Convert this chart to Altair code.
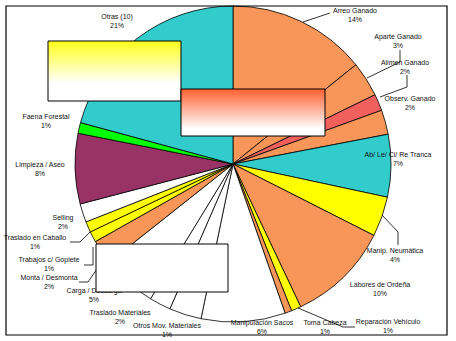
import altair as alt
import pandas as pd

# ---- data (clockwise from 12 o'clock) ----
categories = ["Arreo Ganado", "Aparte Ganado", "Alimen Ganado", "Observ. Ganado",
              "Ab/ Le/ Ci/ Re Tranca", "Manip. Neumática", "Labores de Ordeña",
              "Reparación Vehículo", "Toma Cabeza", "Manipulación Sacos",
              "Otros Mov. Materiales", "Traslado Materiales", "Carga / Descarga",
              "Monta / Desmonta", "Trabajos c/ Gopiete", "Traslado en Caballo",
              "Selling", "Limpieza / Aseo", "Faena Forestal", "Otras (10)"]
values = [14.2, 3.6, 1.7, 2.5, 6.4, 4.1, 10.5, 1.0, 0.7, 8.6,
          3.3, 2.2, 5.6, 2.5, 1.1, 1.1, 1.9, 7.2, 1.1, 20.8]
pct_labels = ["14%", "3%", "2%", "2%", "7%", "4%", "10%", "1%", "1%", "6%",
              "1%", "2%", "5%", "2%", "1%", "1%", "2%", "8%", "1%", "21%"]

# ---- styles / layout ----
OR, RD, CY, YE, WH, PU, GR = "#F8965A", "#F2605E", "#33CCCC", "#FFFF00", "#FFFFFF", "#993366", "#00FF00"
fills = [OR, OR, RD, OR, CY, YE, OR, YE, OR, WH, WH, WH, WH, OR, YE, YE, WH, PU, GR, CY]
label_x = [355, 398, 405, 410, 398, 395, 380, 388, 325, 262, 167, 120, 94, 49, 49, 35, 63, 40, 46, 117]
label_y = [11, 37, 63, 99, 155, 251, 285, 322, 323, 323, 326, 313, 291, 278, 260, 238, 218, 165, 117, 17]

df = pd.DataFrame({"cat": categories, "value": values, "ord": list(range(len(values))),
                   "fill": fills})
lab = pd.DataFrame({"txt": [f"{c}\n{p}" for c, p in zip(categories, pct_labels)],
                    "lx": label_x, "ly": [y - 4 for y in label_y]})

leaders = [
    [(330, 13), (303, 22)],
    [(400, 50), (400, 62), (367, 78)],
    [(407, 75), (407, 87), (380, 97)],
    [(382, 215), (398, 232), (398, 245)],
    [(298, 308), (343, 327), (355, 327)],
    [(70, 242), (80, 242), (90, 232)],
    [(84, 265), (93, 265), (93, 247)],
    [(79, 282), (88, 282), (97, 269)],
]
lrows = []
for g, pts in enumerate(leaders):
    for i, (px, py) in enumerate(pts):
        lrows.append({"g": g, "i": i, "px": px, "py": py})
ldf = pd.DataFrame(lrows)

one = pd.DataFrame({"a": [0]})

pie = alt.Chart(df).mark_arc(stroke="black", strokeWidth=0.8, outerRadius=158).encode(
    theta=alt.Theta("value:Q", stack=True),
    order=alt.Order("ord:Q"),
    color=alt.Color("fill:N", scale=None),
    x=alt.value(233), y=alt.value(164),
)

labels = alt.Chart(lab).mark_text(
    font="Liberation Sans", fontSize=7, lineBreak="\n", lineHeight=9,
    align="center", baseline="top", color="#111111",
).encode(
    x=alt.X("lx:Q", scale=None), y=alt.Y("ly:Q", scale=None), text="txt:N"
)

lines = alt.Chart(ldf).mark_line(color="black", strokeWidth=0.8).encode(
    x=alt.X("px:Q", scale=None), y=alt.Y("py:Q", scale=None),
    detail="g:N", order="i:Q",
)

box_y = alt.Chart(one).mark_rect(
    stroke="black", strokeWidth=1,
    fill=alt.Gradient(gradient="linear", x1=0, x2=0, y1=0, y2=1,
                      stops=[alt.GradientStop(offset=0, color="#FFFF1A"),
                             alt.GradientStop(offset=0.7, color="#FFFFFF"),
                             alt.GradientStop(offset=1, color="#FFFFFF")]),
).encode(x=alt.value(48), x2=alt.value(181), y=alt.value(41), y2=alt.value(101))

box_o = alt.Chart(one).mark_rect(
    stroke="black", strokeWidth=1,
    fill=alt.Gradient(gradient="linear", x1=0, x2=0, y1=0, y2=1,
                      stops=[alt.GradientStop(offset=0, color="#FF6030"),
                             alt.GradientStop(offset=0.85, color="#FFFFFF"),
                             alt.GradientStop(offset=1, color="#FFFFFF")]),
).encode(x=alt.value(181), x2=alt.value(325), y=alt.value(89), y2=alt.value(136))

box_w = alt.Chart(one).mark_rect(stroke="black", strokeWidth=1, fill="white").encode(
    x=alt.value(96), x2=alt.value(228), y=alt.value(244), y2=alt.value(292))

frame = alt.Chart(one).mark_rect(stroke="black", strokeWidth=1.2, fillOpacity=0).encode(
    x=alt.value(6), x2=alt.value(447), y=alt.value(6), y2=alt.value(335))

chart = alt.layer(pie, labels, lines, box_y, box_o, box_w, frame).properties(
    width=456, height=341, padding=0, autosize="none", background="white"
).configure_view(stroke=None)

chart.save("out.html", embed_options={"renderer": "svg", "actions": False})
